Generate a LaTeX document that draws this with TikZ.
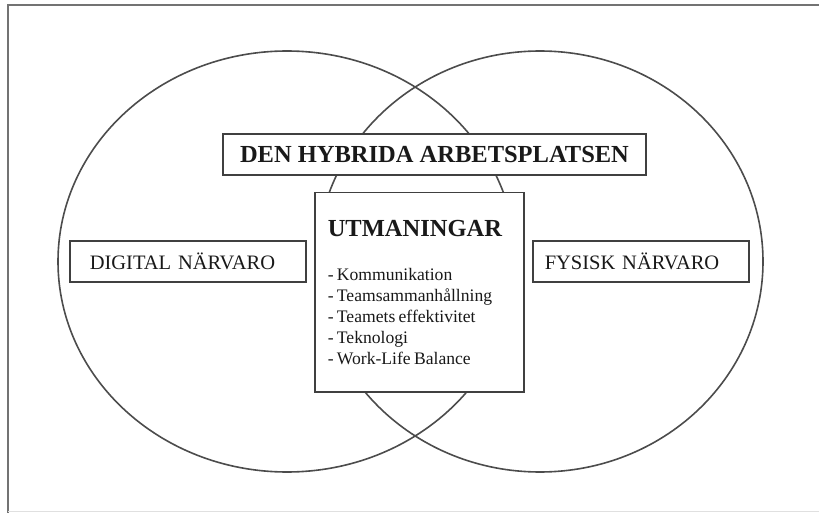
\documentclass[tikz,border=0pt]{standalone}
\usepackage{fontspec}
\setmainfont{Liberation Serif}

\begin{document}
\begin{tikzpicture}[x=1pt,y=-1pt,
   frame/.style={draw=black!55,line width=1.8pt},
   venn/.style={draw=black!70,line width=1.6pt},
   box/.style={draw=black!75,line width=1.5pt,fill=white,text=black!90,inner ysep=0pt},
   side box/.style={box,minimum height=41pt,align=left,font=\fontsize{20.5}{24}\selectfont},
   big/.style={font=\fontsize{24.5}{29}\selectfont\bfseries}]
\useasboundingbox (0,0) rectangle (819,513);
\begin{scope}
\clip (0,0) rectangle (819,513);
\draw[frame] (830,5) -| (8,520);
\draw[black!12] (8,511) -- (830,511);
\end{scope}
\draw[venn] (287,261.5) ellipse [x radius=229,y radius=210.5];
\draw[venn] (540,261.5) ellipse [x radius=223,y radius=210.5];
\node[box,big,minimum width=423pt,minimum height=41pt] (hybrid) at (434.5,154.5) {DEN HYBRIDA ARBETSPLATSEN};
\node[box,anchor=north west,text width=183pt,inner xsep=13pt,minimum height=199pt,align=left] (utmaningar) at (314,192)
  {{\fontsize{24.5}{29}\selectfont\bfseries UTMANINGAR\par}\vspace{23pt}%
   {\fontsize{17.6}{21}\selectfont - Kommunikation\\ - Teamsammanhållning\\ - Teamets effektivitet\\ - Teknologi\\ - Work-Life Balance\par}};
\node[side box,anchor=north west,text width=196pt,inner xsep=20pt] (digital) at (69,240) {DIGITAL NÄRVARO};
\node[side box,anchor=north west,text width=192pt,inner xsep=12pt] (fysisk) at (532,240) {FYSISK NÄRVARO};
\end{tikzpicture}
\end{document}
